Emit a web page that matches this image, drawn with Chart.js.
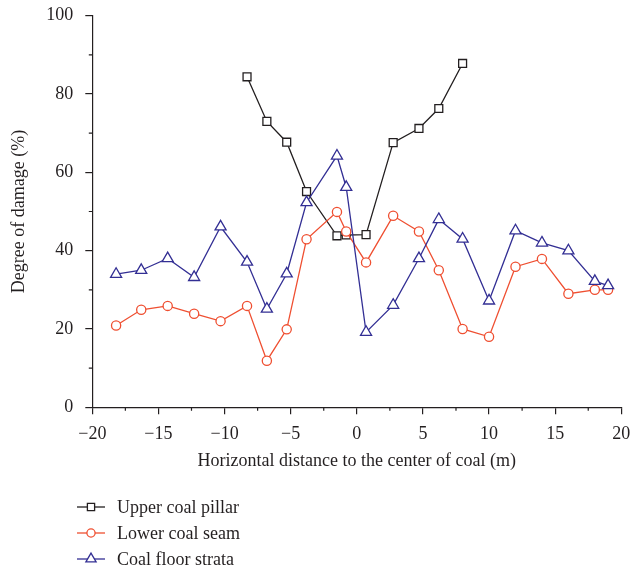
<!DOCTYPE html>
<html>
<head>
<meta charset="utf-8">
<script src="https://cdn.jsdelivr.net/npm/chart.js@4"></script>
<style>
  html, body { margin: 0; padding: 0; background: #fff; }
  #wrap { width: 631px; height: 571px; position: relative; }
</style>
</head>
<body>
<div id="wrap"><canvas id="damage-chart"></canvas></div>
<script>
// horizontal distance (m), shared by all three series
var distance = [-18.2, -16.3, -14.3, -12.3, -10.3, -8.3, -6.8, -5.3, -3.8, -1.5, -0.8, 0.7, 2.75, 4.7, 6.2, 8.0, 10.0, 12.0, 14.0, 16.0, 18.0, 19.0];
// degree of damage (%)
var upperPillar = [null, null, null, null, null, 84.4, 73.0, 67.7, 55.1, 43.8, 44.0, 44.1, 67.6, 71.2, 76.3, 87.8, null, null, null, null, null, null];
var lowerSeam = [20.9, 24.9, 25.9, 23.9, 22.0, 25.9, 11.9, 19.9, 42.9, 49.9, 44.9, 37.0, 48.9, 44.9, 35.0, 20.0, 18.0, 35.9, 37.9, 29.0, 30.0, 30.0];
var floorStrata = [34.0, 35.0, 38.0, 33.2, 46.1, 37.1, 25.1, 34.1, 52.3, 64.2, 56.2, 19.2, 26.1, 38.0, 48.0, 43.0, 27.2, 45.1, 42.0, 40.0, 32.2, 31.1];

var seriesNames = ['Upper coal pillar', 'Lower coal seam', 'Coal floor strata'];
var xTicks = [-20, -15, -10, -5, 0, 5, 10, 15, 20];
var yTicks = [0, 20, 40, 60, 80, 100];

var BLACK = '#231f20', RED = '#ef4f31', BLUE = '#332f94';
var FONT = 'Liberation Serif';

function toPoints(ys) {
  return distance.map(function (x, i) { return { x: x, y: ys[i] }; });
}

function minus(v) {
  return String(v).replace('-', '\u2212');
}

// short minor ticks between the labelled ones
var minorTicks = {
  id: 'minorTicks',
  afterDraw: function (chart) {
    var ctx = chart.ctx, a = chart.chartArea;
    var xs = chart.scales.x, ys = chart.scales.y;
    ctx.save();
    ctx.strokeStyle = BLACK;
    ctx.lineWidth = 1.2;
    ctx.beginPath();
    for (var i = 0; i < xTicks.length - 1; i++) {
      var px = xs.getPixelForValue(xTicks[i] + 2.5);
      ctx.moveTo(px, a.bottom);
      ctx.lineTo(px, a.bottom + 3.5);
    }
    for (var j = 0; j < yTicks.length - 1; j++) {
      var py = ys.getPixelForValue(yTicks[j] + 10);
      ctx.moveTo(a.left, py);
      ctx.lineTo(a.left - 3.5, py);
    }
    ctx.stroke();
    ctx.restore();
  }
};

// legend stacked under the x axis title
var stackedLegend = {
  id: 'stackedLegend',
  afterDraw: function (chart) {
    var ctx = chart.ctx;
    var rows = [507, 533, 559];
    ctx.save();
    ctx.font = '18px "' + FONT + '"';
    ctx.textBaseline = 'middle';
    ctx.textAlign = 'left';
    seriesNames.forEach(function (name, k) {
      var ds = chart.data.datasets.filter(function (d) { return d.label === name; })[0];
      var y = rows[k];
      ctx.strokeStyle = ds.borderColor;
      ctx.lineWidth = 1.3;
      ctx.beginPath();
      ctx.moveTo(77, y);
      ctx.lineTo(105, y);
      ctx.stroke();
      ctx.fillStyle = '#fff';
      Chart.helpers.drawPoint(ctx, {
        pointStyle: ds.pointStyle,
        radius: ds.pointRadius - 0.5,
        rotation: 0,
        borderWidth: 1.3
      }, 91, y);
      ctx.fillStyle = BLACK;
      ctx.fillText(name, 117, y + 1);
    });
    ctx.restore();
  }
};

var ctx = document.getElementById('damage-chart').getContext('2d');
new Chart(ctx, {
  type: 'line',
  data: {
    datasets: [{
      label: seriesNames[0],
      data: toPoints(upperPillar),
      borderColor: BLACK,
      backgroundColor: '#fff',
      pointStyle: 'rect',
      pointRadius: 5.6,
      order: 2
    }, {
      label: seriesNames[1],
      data: toPoints(lowerSeam),
      borderColor: RED,
      backgroundColor: '#fff',
      pointStyle: 'circle',
      pointRadius: 4.6,
      order: 1
    }, {
      label: seriesNames[2],
      data: toPoints(floorStrata),
      borderColor: BLUE,
      backgroundColor: '#fff',
      pointStyle: 'triangle',
      pointRadius: 6.4,
      order: 0
    }]
  },
  options: {
    responsive: true,
    maintainAspectRatio: false,
    animation: false,
    datasets: {
      line: {
        borderWidth: 1.3,
        pointBorderWidth: 1.3,
        tension: 0,
        spanGaps: false
      }
    },
    layout: { padding: { top: 15.7, right: 9.7, bottom: 93.7, left: 0 } },
    plugins: {
      legend: { display: false },
      tooltip: { enabled: false }
    },
    scales: {
      x: {
        type: 'linear',
        min: -20,
        max: 20,
        // fixed box; label overflow is left to the layout padding
        afterFit: function (s) { s.height = 70; s.paddingLeft = 0; s.paddingRight = 0; },
        afterBuildTicks: function (s) { s.ticks = xTicks.map(function (v) { return { value: v }; }); },
        border: { display: true, color: BLACK, width: 1.2 },
        grid: { drawOnChartArea: false, drawTicks: true, tickLength: 7, color: BLACK, lineWidth: 1.2 },
        ticks: {
          padding: 9,
          color: BLACK,
          font: { family: FONT, size: 18 },
          maxRotation: 0,
          callback: function (v) { return minus(v); }
        },
        title: {
          display: true,
          text: 'Horizontal distance to the center of coal (m)',
          color: BLACK,
          font: { family: FONT, size: 18 },
          padding: { top: 0, bottom: 5.5 }
        }
      },
      y: {
        min: 0,
        max: 100,
        afterFit: function (s) { s.width = 92.3; s.paddingTop = 0; s.paddingBottom = 0; },
        afterBuildTicks: function (s) { s.ticks = yTicks.map(function (v) { return { value: v }; }); },
        border: { display: true, color: BLACK, width: 1.2 },
        grid: { drawOnChartArea: false, drawTicks: true, tickLength: 7, color: BLACK, lineWidth: 1.2 },
        ticks: {
          padding: 12,
          color: BLACK,
          font: { family: FONT, size: 18 }
        },
        title: {
          display: true,
          text: 'Degree of damage (%)',
          color: BLACK,
          font: { family: FONT, size: 18 },
          padding: { top: 8, bottom: 0 }
        }
      }
    }
  },
  plugins: [minorTicks, stackedLegend]
});
</script>
</body>
</html>
